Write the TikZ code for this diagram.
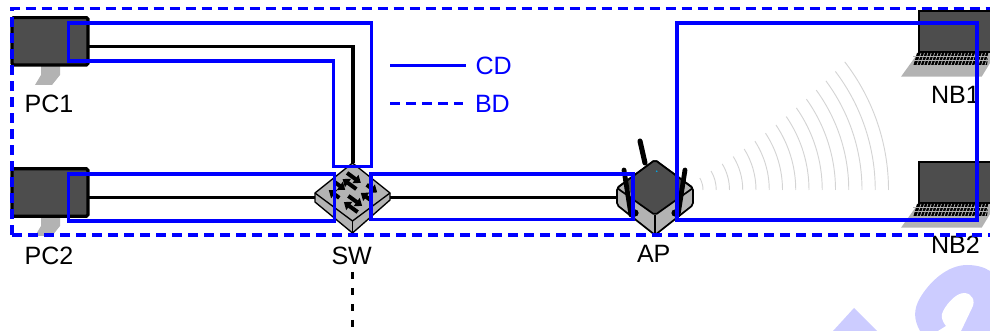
\documentclass[tikz,border=0pt]{standalone}
\usepackage{fontspec}
\setmainfont{Liberation Sans}
\usetikzlibrary{arrows.meta}
\definecolor{devdark}{HTML}{4D4D4D}
\definecolor{devgray}{HTML}{B3B3B3}
\definecolor{wave}{HTML}{D4D4D4}
\definecolor{wm}{HTML}{CCCCFF}
\tikzset{
  x=0.75pt,y=-0.75pt,
  cd/.style={draw=blue,line width=2.4pt,line join=miter},
  bd/.style={draw=blue,line width=2.4pt,dash pattern=on 7.5pt off 4.5pt},
  wire/.style={draw=black,line width=2.7pt},
  lbl/.style={font=\fontsize{18.8pt}{21pt}\selectfont,anchor=base west,inner sep=0pt,outer sep=0pt},
  monitor/.style={draw=black,fill=devdark,line width=2.4pt,rounded corners=1.2pt},
  stand/.style={fill=devgray,draw=none},
  sarrow/.style={draw=black,line width=3pt,-{Triangle[length=5pt,width=7.5pt]}},
}
\newcommand{\swpair}[4]{%
  \begin{scope}[shift={(#1,#2)},rotate=-36]
    \draw[sarrow] (-#3,-#4) -- (#3,-#4);
    \draw[sarrow] (#3,#4) -- (-#3,#4);
  \end{scope}}
\newcommand{\laptop}[1]{%
  \begin{scope}[shift={(0,#1)}]
    \fill[devgray] (919,51.7) -- (901,76.7) -- (981.7,76.7) -- (990,63) -- (990,51.7) -- cycle;
    \draw[black,line width=1.3pt,fill=devdark] (919,10.7) rectangle (995,51.7);
    \fill[black] (917,53) -- (988.5,53) -- (987,65) -- (913.5,65) -- cycle;
    \foreach \yy in {56.8,60.8} \draw[devgray,line width=0.55pt] (913,\yy) -- (990,\yy);
    \foreach \k in {0,...,20}
      \draw[devgray,line width=0.55pt] ({921+3.4*\k},53) -- ({917+3.4*\k},65);
  \end{scope}}
\begin{document}
\begin{tikzpicture}
\useasboundingbox (0,0) rectangle (990,331);
\clip (0,0) rectangle (990,331);
% watermark fragments
\fill[wm] (833,331) -- (854,308) -- (877,331) -- cycle;
\fill[wm] (920,331) .. controls (914,320) and (913,310) .. (920,298)
  .. controls (930,281) and (948,265) .. (967,265)
  .. controls (976,265) and (984,267) .. (990,271) -- (990,331) -- cycle;
\fill[white] (938,331) -- (946,326) .. controls (943,322) and (941,318) .. (942,314)
  .. controls (944,307) and (955,293) .. (964,293)
  .. controls (972,293) and (976,301) .. (972,308) -- (961,331) -- cycle;
% wireless waves
\foreach \i in {0,...,14}{
  \pgfmathsetmacro{\rr}{24+13.25*\i}
  \pgfmathsetmacro{\aa}{-(30+0.55*\i)}
  \draw[wave,line width=0.7pt] ({679+\rr},190) arc[start angle=0,end angle=\aa,radius=\rr];
}
% wires
\coordinate (pc1port) at (88,46.7);
\coordinate (pc2port) at (88,197.7);
\coordinate (bend) at (352.7,46.7);
\coordinate (swtop) at (352.7,163);
\coordinate (swleft) at (315,197.7);
\coordinate (swright) at (390,197.7);
\coordinate (apleft) at (617,197.7);
\coordinate (upa) at (352.5,272);
\coordinate (upb) at (352.5,328);
\draw[wire] (pc1port) -- (bend) -- (swtop);
\draw[wire] (pc2port) -- (swleft);
\draw[wire] (swright) -- (apleft);
\draw[wire,dash pattern=on 5.6pt off 6.4pt] (upa) -- (upb);
% PCs
\fill[stand] (41,65) -- (60,65) -- (60,75) -- (52,85) -- (35,85) -- (41,75) -- cycle;
\node[monitor,minimum width=57pt,minimum height=35.5pt,inner sep=0pt] (pc1) at (50,41.3) {};
\fill[stand] (41,216) -- (60,216) -- (60,226) -- (52,236) -- (35,236) -- (41,226) -- cycle;
\node[monitor,minimum width=57pt,minimum height=35.5pt,inner sep=0pt] (pc2) at (50,192.5) {};
% Switch
\draw[black,line width=1pt,fill=devgray,line join=round]
  (315,193) -- (315,202) -- (352.5,233) -- (390,200) -- (390,193) -- (352.5,163) -- cycle;
\draw[black,line width=1pt,line join=round]
  (315,193) -- (352.5,221) -- (390,193);
\draw[black,line width=1pt] (352.5,221) -- (352.5,233);
\swpair{351.7}{181}{8.5}{3.8}
\swpair{353}{204}{8.5}{3.8}
\swpair{337}{190}{6.5}{5}
\swpair{369}{192.7}{6.5}{5}
% AP
\draw[black,line width=3.8pt,line cap=round] (640,141) -- (645,163);
\draw[black,line width=1.3pt,fill=devgray,line join=round,rounded corners=1.5pt]
  (617,188) -- (617,205) -- (655,235) -- (693,205) -- (693,188) -- (655,160) -- cycle;
\fill[devdark,rounded corners=1pt]
  (655,160) -- (627,181) -- (632,198) -- (655,215) -- (678,198) -- (683,181) -- cycle;
\draw[black,line width=1.3pt,line join=round,rounded corners=1.5pt]
  (617,188) -- (655,160) -- (693,188) -- (655,215) -- cycle;
\draw[black,line width=1.3pt] (655,215) -- (655,235);
\fill[black] (635,213) circle (3.6);
\fill[black] (675,213) circle (3.6);
\draw[black,line width=3.6pt,line cap=round] (624,170) -- (631,215);
\draw[black,line width=3.6pt,line cap=round] (685,170) -- (678,215);
\fill[cyan] (656.7,171.3) circle (0.9);
% Laptops
\laptop{0}
\laptop{151}
% labels
\node[lbl] (pc1l) at (24.6,112.7) {PC1};
\node[lbl] (pc2l) at (24.6,264.3) {PC2};
\node[lbl] (swl) at (331.5,264.3) {SW};
\node[lbl] (apl) at (637,262.5) {AP};
\node[lbl] (nb1l) at (931,104) {NB1};
\node[lbl] (nb2l) at (931,254) {NB2};
\node[lbl,text=blue] (cdl) at (475.5,74.3) {CD};
\node[lbl,text=blue] (bdl) at (475,112.3) {BD};
% collision domains
\draw[cd] (68.5,61) -- (68.5,23) -- (371.5,23) -- (371.5,166.5) -- (333.5,166.5) -- (333.5,61) -- cycle;
\draw[cd] (68.5,174) rectangle (334.5,221);
\draw[cd] (633,174) -- (371,174) -- (371,219.5) -- (633,219.5) -- cycle;
\draw[cd] (677,23) rectangle (977,220);
% broadcast domain
\draw[bd] (12,235) -- (12,8.5) -- (995,8.5);
\draw[bd] (12,235) -- (995,235);
% legend
\coordinate (l1a) at (390,65.3); \coordinate (l1b) at (466,65.3);
\coordinate (l2a) at (390,103.3); \coordinate (l2b) at (463,103.3);
\draw[cd] (l1a) -- (l1b);
\draw[bd] (l2a) -- (l2b);
\end{tikzpicture}
\end{document}
